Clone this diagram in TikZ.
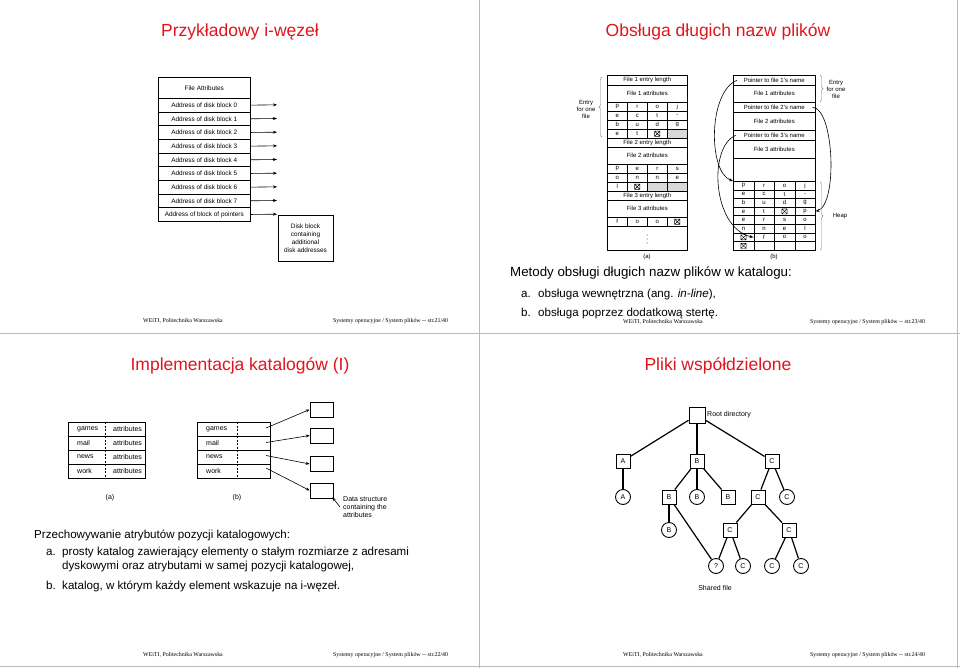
\documentclass[tikz,border=0pt]{standalone}
\usepackage{fontspec}
\setmainfont{Liberation Sans}
\newfontfamily\footfont{Liberation Serif}
\usetikzlibrary{arrows.meta,decorations.pathreplacing,calc}
\definecolor{titlered}{RGB}{225,20,30}
\newcommand\charrow[6]{\foreach \c [count=\k from 0] in {#6} {\node[cell, minimum width=#4, minimum height=#5] (#1-\k) at ({#2+\k*#4},#3) {\c};}}
\tikzset{
  fsix/.style={font=\fontsize{6}{7}\selectfont},
  fsev/.style={font=\fontsize{6.4}{8}\selectfont},
  fsvn/.style={font=\fontsize{7}{8}\selectfont},
  ttl/.style={font=\fontsize{17.5}{20}\selectfont, text=titlered},
  bodyt/.style={font=\fontsize{11.6}{14}\selectfont, anchor=base west, inner sep=0pt},
  bodyh/.style={font=\fontsize{13.3}{15}\selectfont, anchor=base west, inner sep=0pt},
  foot/.style={font=\footfont\fontsize{5.9}{7}\selectfont, inner sep=0pt},
  arr/.style={-{Stealth[length=4pt,width=3pt]}, line width=0.6pt},
  cell/.style={draw, line width=0.5pt, inner sep=0pt, anchor=north west, fsix},
  trow/.style={draw, line width=0.6pt, inner sep=0pt, anchor=north west, fsev},
  tbox/.style={draw, line width=0.9pt, minimum size=14pt, inner sep=0pt, fsvn},
  tcirc/.style={draw, circle, line width=0.9pt, minimum size=15pt, inner sep=0pt, fsvn},
  tedge/.style={line width=1.2pt},
  brc/.style={decorate, decoration={brace, amplitude=3pt}, line width=0.4pt, gray},
  divider/.style={gray!55, line width=0.6pt},
  pics/xmark/.style={code={\draw[line width=0.4pt] (-2.6,-2.6) rectangle (2.6,2.6) (-2.6,-2.6)--(2.6,2.6) (-2.6,2.6)--(2.6,-2.6);}}
}
\begin{document}
\begin{tikzpicture}[x=1pt,y=-1pt]
\useasboundingbox (0,0) rectangle (960,668);
% dividers
\draw[divider] (479,0) -- (479,668);
\draw[divider] (957,0) -- (957,668);
\draw[divider] (0,333) -- (960,333);
\draw[divider] (0,666) -- (960,666);

% ================= slide 1 =================
\node[ttl] (t1) at (240,32) {Przykładowy i-węzeł};
\node[trow, minimum width=92, minimum height=21] (fa) at (158,77) {File Attributes};
\foreach \t [count=\i from 0] in {Address of disk block 0,Address of disk block 1,Address of disk block 2,Address of disk block 3,Address of disk block 4,Address of disk block 5,Address of disk block 6,Address of disk block 7,Address of block of pointers} {
  \node[trow, minimum width=92, minimum height=13.667] (r\i) at (158,{98+13.667*\i}) {\t};
  \coordinate (e\i) at (277,{98+13.667*\i+6.833});
  \draw[arr] (r\i.east) -- (e\i);
}
\node[draw, line width=0.6pt, minimum width=55, minimum height=46, inner sep=0pt, align=center, fsev] (dk) at (305.5,238) {Disk block\\containing\\additional\\disk addresses};
\node[foot] (f1a) at (183,321) {WEiTI, Politechnika Warszawska};
\node[foot, anchor=west] (f1b) at (333,321) {Systemy operacyjne / System plików -- str.21/40};

% ================= slide 2 =================
\node[ttl] (t2) at (718,32) {Obsługa długich nazw plików};
% (a)
\fill[gray!30] (667,129) rectangle (687,138);
\fill[gray!30] (647,182) rectangle (687,191);
\node[cell, minimum width=80, minimum height=10] (a1) at (607,75) {File 1 entry length};
\node[cell, minimum width=80, minimum height=17] (a2) at (607,85) {File 1 attributes};
\charrow{aR1}{607}{102}{20}{9}{p,r,o,j}
\charrow{aR2}{607}{111}{20}{9}{e,c,t,-}
\charrow{aR3}{607}{120}{20}{9}{b,u,d,g}
\charrow{aR4}{607}{129}{20}{9}{e,t,{},{}}
\node[cell, minimum width=80, minimum height=9] (a3) at (607,138) {File 2 entry length};
\node[cell, minimum width=80, minimum height=17] (a4) at (607,147) {File 2 attributes};
\charrow{aR5}{607}{164}{20}{9}{p,e,r,s}
\charrow{aR6}{607}{173}{20}{9}{o,n,n,e}
\charrow{aR7}{607}{182}{20}{9}{l,{},{},{}}
\node[cell, minimum width=80, minimum height=9] (a5) at (607,191) {File 3 entry length};
\node[cell, minimum width=80, minimum height=17] (a6) at (607,200) {File 3 attributes};
\charrow{aR8}{607}{217}{20}{9}{f,o,o,{}}
\node[cell, minimum width=80, minimum height=24] (a7) at (607,226) {};
\fill (647,235) circle (0.5) (647,239) circle (0.5) (647,243) circle (0.5);
\pic at (aR4-2.center) {xmark};
\pic at (aR7-1.center) {xmark};
\pic at (aR8-3.center) {xmark};
\draw[brc] (602,137) -- (602,77);
\node[fsix, align=center, inner sep=0pt] (ea) at (586,109) {Entry\\for one\\file};
\node[fsix] (la) at (647,257) {(a)};
% (b)
\node[cell, minimum width=82, minimum height=10] (b1) at (733,75) {Pointer to file 1's name};
\node[cell, minimum width=82, minimum height=17] (b2) at (733,85) {File 1 attributes};
\node[cell, minimum width=82, minimum height=10] (b3) at (733,102) {Pointer to file 2's name};
\node[cell, minimum width=82, minimum height=18] (b4) at (733,112) {File 2 attributes};
\node[cell, minimum width=82, minimum height=10] (b5) at (733,130) {Pointer to file 3's name};
\node[cell, minimum width=82, minimum height=18] (b6) at (733,140) {File 3 attributes};
\node[cell, minimum width=82, minimum height=23] (b7) at (733,158) {};
\charrow{hR1}{733}{181}{20.5}{8.625}{p,r,o,j}
\charrow{hR2}{733}{189.625}{20.5}{8.625}{e,c,t,-}
\charrow{hR3}{733}{198.25}{20.5}{8.625}{b,u,d,g}
\charrow{hR4}{733}{206.875}{20.5}{8.625}{e,t,{},p}
\charrow{hR5}{733}{215.5}{20.5}{8.625}{e,r,s,o}
\charrow{hR6}{733}{224.125}{20.5}{8.625}{n,n,e,l}
\charrow{hR7}{733}{232.75}{20.5}{8.625}{{},f,o,o}
\charrow{hR8}{733}{241.375}{20.5}{8.625}{{},{},{},{}}
\pic at (hR4-2.center) {xmark};
\pic at (hR7-0.center) {xmark};
\pic at (hR8-0.center) {xmark};
\draw[arr] ([xshift=4pt]b1.west) .. controls (708,92) and (708,172) .. (hR1-0.north west);
\draw[arr] ([xshift=-3pt]b3.east) .. controls (834,108) and (838,204) .. (hR4-3.east);
\draw[arr] ([xshift=3pt]b5.west) .. controls (708,146) and (712,228) .. (hR7-1.west);
\draw[brc] (820,75) -- (820,102);
\node[fsix, align=center, inner sep=0pt] (eb) at (836,89) {Entry\\for one\\file};
\draw[brc] (820,182) -- (820,250);
\node[fsix, inner sep=0pt] (hp) at (840,216) {Heap};
\node[fsix] (lb) at (774,257) {(b)};
\node[bodyh] (m0) at (510,276.5) {Metody obsługi długich nazw plików w katalogu:};
\node[bodyt] (m1a) at (521,297) {a.};
\node[bodyt] (m1) at (538,297) {obsługa wewnętrzna (ang. \textit{in-line}),};
\node[bodyt] (m2a) at (521,316.5) {b.};
\node[bodyt] (m2) at (538,316.5) {obsługa poprzez dodatkową stertę.};
\node[foot] (f2a) at (663,322) {WEiTI, Politechnika Warszawska};
\node[foot, anchor=west] (f2b) at (810,322) {Systemy operacyjne / System plików -- str.23/40};

% ================= slide 3 =================
\node[ttl] (t3) at (240,366) {Implementacja katalogów (I)};
\foreach \t [count=\i from 0] in {games,mail,news,work} {
  \node[trow, minimum width=77, minimum height=14] (ta\i) at (68,{422+14*\i}) {};
  \node[fsvn, anchor=west, inner sep=0pt] (tan\i) at (77,{429+14*\i}) {\t};
  \node[fsvn, anchor=west, inner sep=0pt] (taa\i) at (113,{429+14*\i}) {attributes};
  \node[trow, minimum width=73, minimum height=14] (tb\i) at (197,{422+14*\i}) {};
  \node[fsvn, anchor=west, inner sep=0pt] (tbn\i) at (206,{429+14*\i}) {\t};
}
\draw[line width=0.5pt, dash pattern=on 2pt off 1.5pt] (105,422) -- (105,478);
\draw[line width=0.5pt, dash pattern=on 2pt off 1.5pt] (237,422) -- (237,478);
\node[draw, line width=0.6pt, minimum width=23, minimum height=15] (d1) at (321.5,409.5) {};
\node[draw, line width=0.6pt, minimum width=23, minimum height=15] (d2) at (321.5,435.5) {};
\node[draw, line width=0.6pt, minimum width=23, minimum height=15] (d3) at (321.5,464) {};
\node[draw, line width=0.6pt, minimum width=23, minimum height=15] (d4) at (321.5,490.5) {};
\coordinate (s1) at (266,428);
\coordinate (s2) at (266,442.5);
\coordinate (s3) at (266,455.5);
\coordinate (s4) at (266,468);
\draw[arr] (s1) -- (d1.west);
\draw[arr] (s2) -- (d2.west);
\draw[arr] (s3) -- (d3.west);
\draw[arr] (s4) -- (d4.west);
\node[fsvn, anchor=north west, align=left, inner sep=0pt] (dsl) at (343,496) {Data structure\\containing the\\attributes};
\coordinate (dst) at (340,507);
\draw[arr] (dst) -- ([xshift=-1pt,yshift=1pt]d4.south east);
\node[fsvn] (l3a) at (110,498) {(a)};
\node[fsvn] (l3b) at (237,498) {(b)};
\node[bodyt] (p0) at (34,538) {Przechowywanie atrybutów pozycji katalogowych:};
\node[bodyt] (p1a) at (46,555) {a.};
\node[bodyt] (p1) at (62,555) {prosty katalog zawierający elementy o stałym rozmiarze z adresami};
\node[bodyt] (p1b) at (62,569) {dyskowymi oraz atrybutami w samej pozycji katalogowej,};
\node[bodyt] (p2a) at (46,589) {b.};
\node[bodyt] (p2) at (62,589) {katalog, w którym każdy element wskazuje na i-węzeł.};
\node[foot] (f3a) at (183,655) {WEiTI, Politechnika Warszawska};
\node[foot, anchor=west] (f3b) at (333,655) {Systemy operacyjne / System plików -- str.22/40};

% ================= slide 4 =================
\node[ttl] (t4) at (718,366) {Pliki współdzielone};
\node[tbox, minimum size=16pt] (root) at (697,415) {};
\node[fsvn, anchor=west, inner sep=0pt] (rootl) at (707,415) {Root directory};
\node[tbox] (A) at (623,461) {A};
\node[tbox] (B) at (697,461) {B};
\node[tbox] (C) at (772,461) {C};
\node[tcirc] (Ac) at (623,497) {A};
\node[tbox] (Bb2) at (669,497) {B};
\node[tcirc] (Bc) at (697,497) {B};
\node[tbox] (Bb3) at (728,497) {B};
\node[tbox] (Cb) at (758,497) {C};
\node[tcirc] (Cc) at (787,497) {C};
\node[tcirc] (Bc2) at (669,530) {B};
\node[tbox] (Cb2) at (730,530) {C};
\node[tbox] (Cb3) at (789,530) {C};
\node[tcirc] (q) at (716,566) {?};
\node[tcirc] (C1) at (743,566) {C};
\node[tcirc] (C2) at (772,566) {C};
\node[tcirc] (C3) at (801,566) {C};
\node[fsvn] (sf) at (715,588) {Shared file};
\draw[tedge] (root) -- (A);
\draw[tedge] (root) -- (B);
\draw[tedge] (root) -- (C);
\draw[tedge] (A) -- (Ac);
\draw[tedge] (B) -- (Bb2);
\draw[tedge] (B) -- (Bc);
\draw[tedge] (B) -- (Bb3);
\draw[tedge] (C) -- (Cb);
\draw[tedge] (C) -- (Cc);
\draw[tedge] (Bb2) -- (Bc2);
\draw[tedge] (Bb2) -- (q);
\draw[tedge] (Cb) -- (Cb2);
\draw[tedge] (Cb) -- (Cb3);
\draw[tedge] (Cb2) -- (q);
\draw[tedge] (Cb2) -- (C1);
\draw[tedge] (Cb3) -- (C2);
\draw[tedge] (Cb3) -- (C3);
\node[foot] (f4a) at (663,655) {WEiTI, Politechnika Warszawska};
\node[foot, anchor=west] (f4b) at (810,655) {Systemy operacyjne / System plików -- str.24/40};
\end{tikzpicture}
\end{document}
